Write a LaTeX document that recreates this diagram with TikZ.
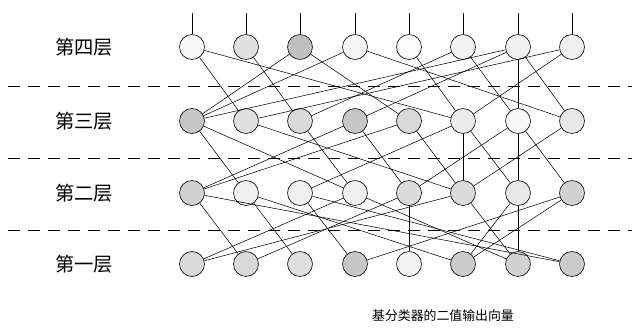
\documentclass[tikz,border=0pt]{standalone}
\usepackage{fontspec}
\newfontfamily\cjk{Noto Sans CJK SC}
\begin{document}
\begin{tikzpicture}[x=0.3mm,y=-0.3mm,
  neuron/.style={circle,draw=black,line width=0.5pt,minimum size=7.5mm,inner sep=0pt},
  link/.style={line width=0.45pt},
  sep/.style={dashed,line width=0.7pt,dash pattern=on 3.6mm off 2.4mm},
  lab/.style={font=\cjk\fontsize{16.5}{16.5}\selectfont},
  captext/.style={font=\cjk\fontsize{11}{11}\selectfont}]
\useasboundingbox (0,0) rectangle (632,332);
% rows
\def\xs{{192,246,300,355,409,463,518,572}}
\foreach \i/\c in {1/5,2/25,3/50,4/8,5/3,6/10,7/12,8/12}
  \node[neuron,fill=gray!\c] (a\i) at ({\xs[\i-1]},47) {};
\foreach \i/\c in {1/45,2/25,3/30,4/45,5/30,6/15,7/5,8/18}
  \node[neuron,fill=gray!\c] (b\i) at ({\xs[\i-1]},121) {};
\foreach \i/\c in {1/35,2/12,3/12,4/12,5/28,6/28,7/18,8/35}
  \node[neuron,fill=gray!\c] (c\i) at ({\xs[\i-1]},193) {};
\foreach \i/\c in {1/30,2/30,3/25,4/45,5/10,6/40,7/35,8/40}
  \node[neuron,fill=gray!\c] (d\i) at ({\xs[\i-1]},264) {};
% top inputs
\foreach \i in {1,...,8} {
  \coordinate (t\i) at ({\xs[\i-1]},13);
  \draw[link] (t\i) -- (a\i.north);
}
% separators
\coordinate (s1l) at (8,86);  \coordinate (s1r) at (632,86);
\coordinate (s2l) at (8,158); \coordinate (s2r) at (632,158);
\coordinate (s3l) at (8,230); \coordinate (s3r) at (632,230);
\draw[sep] (s1l) -- (s1r);
\draw[sep] (s2l) -- (s2r);
\draw[sep] (s3l) -- (s3r);
% layer labels
\node[lab] (l4) at (84,47) {第四层};
\node[lab] (l3) at (84,121) {第三层};
\node[lab] (l2) at (84,193) {第二层};
\node[lab] (l1) at (84,264) {第一层};
\node[captext] (cp) at (443,316) {基分类器的二值输出向量};
% gap 4 -> 3
\foreach \u/\v in {1/2,1/6,2/3,3/1,3/5,4/1,4/8,5/6,6/3,6/7,7/1,7/4,7/7,7/8,8/6,8/2}
  \draw[link] (a\u) -- (b\v);
% gap 3 -> 2
\foreach \u/\v in {1/2,1/4,2/6,3/4,4/1,4/5,5/1,5/6,6/3,6/6,6/7,7/5,7/7,7/8,8/6}
  \draw[link] (b\u) -- (c\v);
% gap 2 -> 1
\foreach \u/\v in {1/2,1/8,2/3,2/6,3/4,3/8,4/1,4/7,5/5,5/2,6/1,6/7,7/6,7/7,8/4,8/6}
  \draw[link] (c\u) -- (d\v);
\end{tikzpicture}
\end{document}
